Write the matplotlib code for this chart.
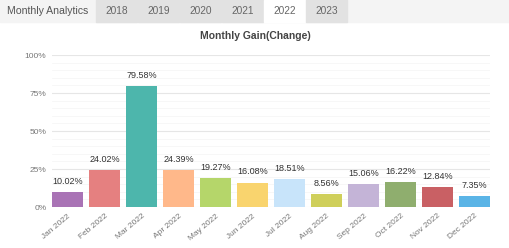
import matplotlib.pyplot as plt
from matplotlib.patches import Rectangle
from matplotlib.ticker import MultipleLocator

# data
months = ["Jan 2022", "Feb 2022", "Mar 2022", "Apr 2022", "May 2022", "Jun 2022",
          "Jul 2022", "Aug 2022", "Sep 2022", "Oct 2022", "Nov 2022", "Dec 2022"]
gains = [10.02, 24.02, 79.58, 24.39, 19.27, 16.08, 18.51, 8.56, 15.06, 16.22, 12.84, 7.35]
colors = ["#a973b5", "#e58080", "#4db6ac", "#ffb88a", "#b5d66a", "#f9d46e",
          "#c8e4fa", "#cfcf5a", "#c4b4d7", "#8fae6e", "#c96064", "#5ab4e6"]
tabs = ["2018", "2019", "2020", "2021", "2022", "2023"]
yticks = [0, 25, 50, 75, 100]

plt.rcParams['font.family'] = ['Liberation Sans', 'DejaVu Sans']

fig = plt.figure(figsize=(5.10, 2.48), dpi=100)
fig.patch.set_facecolor("white")

# tab bar
W, H = 510, 248
def px_rect(x0, x1, y0, y1, color):
    fig.patches.append(Rectangle((x0 / W, 1 - y1 / H), (x1 - x0) / W, (y1 - y0) / H,
                                 transform=fig.transFigure, color=color, zorder=0))

px_rect(0, 510, 0, 22, "#f4f4f4")
fig.text(7 / W, 1 - 11 / H, "Monthly Analytics", fontsize=7.6, color="#555555",
         va="center", ha="left")
for i, t in enumerate(tabs):
    x0 = 96 + i * 42
    px_rect(x0, x0 + 41, 0, 22, "white" if t == "2022" else "#e2e2e2")
    fig.text((x0 + 20.5) / W, 1 - 11 / H, t, fontsize=7.3, color="#666666",
             va="center", ha="center")

fig.text(255 / W, 1 - 36 / H, "Monthly Gain(Change)", fontsize=7.5, color="#444444",
         ha="center", va="center", fontweight="bold")

ax = fig.add_axes([52 / W, 1 - 207 / H, 438 / W, 152 / H])
x = range(len(months))
ax.bar(x, gains, width=0.84, color=colors, zorder=3)
for i, v in enumerate(gains):
    ax.text(i, v + 4, f"{v:.2f}%", ha="center", va="bottom", fontsize=6.5, color="#333333")

ax.set_xlim(-0.42, len(months) - 0.58)
ax.set_ylim(0, 100)
ax.set_yticks(yticks)
ax.set_yticklabels([f"{v}%" for v in yticks], fontsize=6, color="#777777")
ax.yaxis.set_minor_locator(MultipleLocator(5))
ax.grid(axis="y", which="major", color="#e6e6e6", linewidth=0.8, zorder=0)
ax.grid(axis="y", which="minor", color="#f6f6f6", linewidth=0.6, zorder=0)
ax.set_xticks(list(x))
ax.set_xticklabels(months, rotation=40, ha="right", rotation_mode="anchor",
                   fontsize=6, color="#777777")
ax.tick_params(axis="both", length=0, pad=4)
ax.tick_params(axis="y", which="minor", length=0)
for s in ax.spines.values():
    s.set_visible(False)

fig.savefig("out.png", dpi=100)
